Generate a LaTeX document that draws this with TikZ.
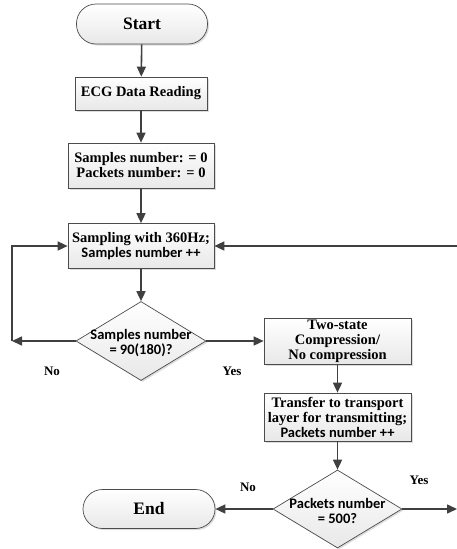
\documentclass[tikz,border=0pt]{standalone}
\usepackage{fontspec}
\setmainfont{Liberation Serif}
\newfontfamily\calib{Carlito}
\usetikzlibrary{shapes.geometric,arrows.meta,shadows}
\begin{document}
\begin{tikzpicture}[x=1pt,y=-1pt,
  font=\bfseries\fontsize{14.5}{15}\selectfont,
  boxstyle/.style={draw=gray!60!black, line width=0.7pt, top color=white, bottom color=gray!18,
     drop shadow={shadow xshift=1.5pt, shadow yshift=-1.5pt, fill=gray!45, opacity=0.6},
     inner sep=0pt, align=center},
  procbox/.style={boxstyle, rectangle},
  termbox/.style={boxstyle, rectangle, rounded corners=19.5pt, font=\bfseries\fontsize{17.5}{18}\selectfont},
  decbox/.style={boxstyle, diamond, aspect=1.65},
  dectext/.style={align=center, inner sep=0pt, font=\calib\bfseries\fontsize{14.5}{15}\selectfont},
  conn/.style={draw=black!75, line width=1.6pt, -{Triangle[length=10pt,width=9pt]}},
  plain/.style={draw=black!75, line width=1.6pt},
  lab/.style={font=\bfseries\fontsize{13}{14}\selectfont, inner sep=0pt}
]
\useasboundingbox (0,0) rectangle (457,549);

\node[termbox, minimum width=131pt, minimum height=40pt] (start) at (142,24) {Start};
\node[procbox, minimum width=132pt, minimum height=33pt] (ecg) at (141,93.5) {ECG Data Reading};
\node[procbox, minimum width=146pt, minimum height=45pt] (init) at (141,165.5) {Samples number: = 0\\Packets number: = 0};
\node[procbox, minimum width=146pt, minimum height=45pt] (samp) at (141,246) {Sampling with 360Hz;\\{\calib Samples number ++}};
\node[decbox, minimum width=130pt, minimum height=79pt] (d1) at (141,341) {};
\node[dectext] (d1t) at (141,343) {Samples number\\= 90(180)?};
\node[procbox, minimum width=147pt, minimum height=46pt] (comp) at (337.5,341) {Two-state\\Compression/\\No compression};
\node[procbox, minimum width=147pt, minimum height=48pt] (trans) at (337.5,417) {Transfer to transport\\layer for transmitting;\\{\calib Packets number ++}};
\node[decbox, minimum width=129pt, minimum height=78pt] (d2) at (337.5,509) {};
\node[dectext] (d2t) at (337.5,511) {Packets number\\= 500?};
\node[termbox, minimum width=132pt, minimum height=39pt] (end) at (149,509) {End};

\coordinate (L) at (12,341);
\coordinate (R) at (460,246);
\coordinate (Y) at (457,509);

\draw[conn] (start) -- (ecg);
\draw[conn] (ecg) -- (init);
\draw[conn] (init) -- (samp);
\draw[conn] (samp) -- (d1);
\draw[conn] (d1.east) -- (comp.west);
\draw[conn] (comp) -- (trans);
\draw[conn] (trans) -- (d2);
\draw[conn] (d2.west) -- (end.east);
\draw[conn] (d2.east) -- (Y);
\draw[conn] (R) -- (samp.east);
\draw[conn] (d1.west) -- (L);
\draw[conn] (L) -- (L |- samp.west) -- (samp.west);

\node[lab] (no1) at (52,371) {No};
\node[lab] (yes1) at (232,371) {Yes};
\node[lab] (no2) at (248,487) {No};
\node[lab] (yes2) at (419,480) {Yes};
\end{tikzpicture}
\end{document}
